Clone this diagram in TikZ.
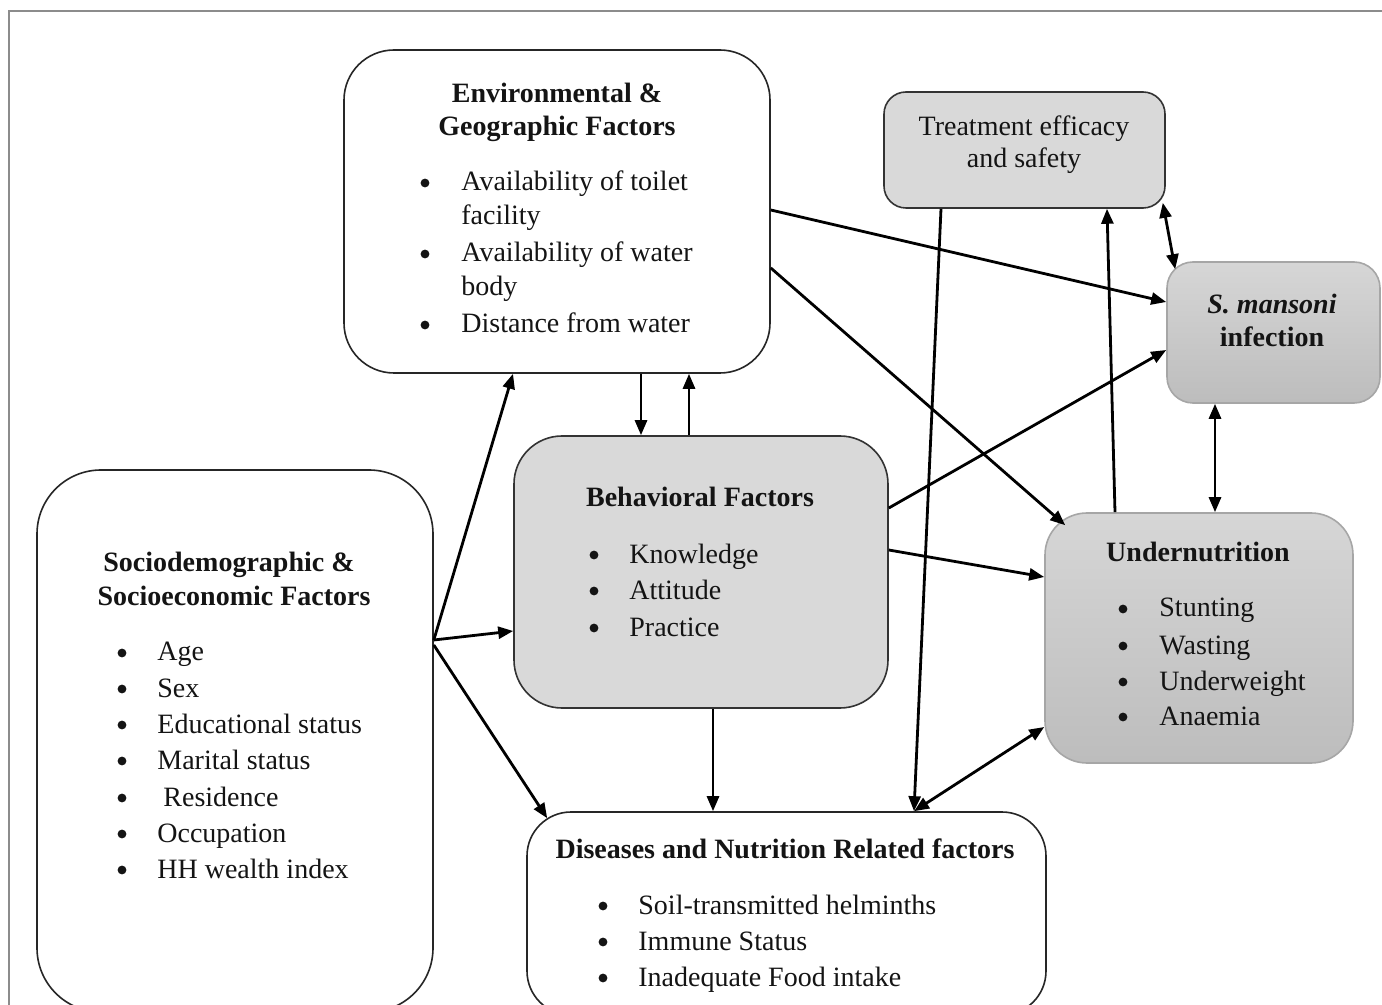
\documentclass[tikz,border=0pt]{standalone}
\usepackage{fontspec}
\setmainfont{Liberation Serif}
\usetikzlibrary{arrows.meta,fit,calc}
\begin{document}
\begin{tikzpicture}[x=0.5pt,y=-0.5pt,
  plainbox/.style={inner sep=0pt, draw=black!85, line width=0.8pt, fill=white},
  graybox/.style={inner sep=0pt, draw=black!80, line width=0.8pt, fill=black!15},
  gradbox/.style={inner sep=0pt, draw=black!35, line width=0.8pt, top color=black!16, bottom color=black!26},
  tx/.style={inner sep=0pt, text=black!92, font=\fontsize{14}{16}\selectfont},
  ttl/.style={tx, font=\fontsize{14}{16}\selectfont\bfseries, anchor=base},
  itm/.style={tx, anchor=base west},
  bul/.style={circle, fill=black!92, inner sep=0pt, minimum size=4.4pt, yshift=4pt},
  arr/.style={line width=1.4pt, -{Triangle[length=7.5pt,width=6pt]}},
  dbl/.style={line width=1.4pt, {Triangle[length=7.5pt,width=6pt]}-{Triangle[length=7.5pt,width=6pt]}},
  frame/.style={draw=black!45, line width=1pt}
]
\useasboundingbox (0,0) rectangle (1382,1005);
\clip (0,0) rectangle (1382,1005);
\fill[white] (0,0) rectangle (1382,1005);
\draw[frame] (9,1010) -- (9,11) -- (1390,11);

% boxes
\node[plainbox, rounded corners=25pt, fit={(344,50)(770,373)}] (env) {};
\node[graybox, rounded corners=11pt, fit={(884,92)(1165,208)}] (treat) {};
\node[gradbox, rounded corners=13pt, fit={(1167,262)(1380,403)}] (sman) {};
\node[graybox, rounded corners=24pt, fit={(514,436)(888,708)}] (behav) {};
\node[gradbox, rounded corners=21pt, fit={(1045,513)(1353,763)}] (under) {};
\node[plainbox, rounded corners=32pt, fit={(37,470)(433,1012)}] (socio) {};
\node[plainbox, rounded corners=22pt, fit={(527,812)(1046,1015)}] (dis) {};

% connectors
\draw[arr] (socio.east |- 0,640) -- (env.south -| 513,0);
\draw[arr] (socio.east |- 0,640) -- (behav.west |- 0,631);
\draw[arr] (socio.east |- 0,645) -- ($(dis.north west)+(21,7)$);
\draw[arr] (env.south -| 641,0) -- (behav.north -| 641,0);
\draw[arr] (behav.north -| 689,0) -- (env.south -| 689,0);
\draw[arr] (env.east |- 0,210) -- (sman.west |- 0,302);
\draw[arr] (env.east |- 0,268) -- ($(under.north west)+(21,13)$);
\draw[arr] (behav.east |- 0,508) -- (sman.west |- 0,350);
\draw[arr] (behav.east |- 0,550) -- (under.west |- 0,577);
\draw[arr] (behav.south -| 713,0) -- (dis.north -| 713,0);
\draw[arr] (treat.south -| 941,0) -- (dis.north -| 914,0);
\draw[arr] (under.north -| 1115,0) -- (treat.south -| 1107,0);
\draw[dbl] ($(treat.south east)+(-3,-6)$) -- ($(sman.north west)+(9,8)$);
\draw[dbl] (sman.south -| 1215,0) -- (under.north -| 1215,0);
\draw[dbl] (dis.north -| 914,0) -- (under.west |- 0,727);

% Environmental
\node[ttl] (env-h1) at (557,103) {Environmental \&};
\node[ttl] (env-h2) at (557,136) {Geographic Factors};
\node[bul] (env-b1) at (425,191) {};
\node[itm] (env-t1) at (461,191) {Availability of toilet};
\node[itm] (env-t2) at (461,225) {facility};
\node[bul] (env-b2) at (425,262) {};
\node[itm] (env-t3) at (461,262) {Availability of water};
\node[itm] (env-t4) at (461,296) {body};
\node[bul] (env-b3) at (425,333) {};
\node[itm] (env-t5) at (461,333) {Distance from water};

% Treatment
\node[tx, anchor=base] (tr-1) at (1024,136) {Treatment efficacy};
\node[tx, anchor=base] (tr-2) at (1024,168) {and safety};

% S. mansoni
\node[ttl] (sm-1) at (1272,314) {\itshape S. mansoni};
\node[ttl] (sm-2) at (1272,347) {infection};

% Behavioral
\node[ttl] (be-h) at (700,507) {Behavioral Factors};
\node[bul] (be-b1) at (594,563) {};
\node[itm] (be-t1) at (629,563) {Knowledge};
\node[bul] (be-b2) at (594,599) {};
\node[itm] (be-t2) at (629,599) {Attitude};
\node[bul] (be-b3) at (594,636) {};
\node[itm] (be-t3) at (629,636) {Practice};

% Undernutrition
\node[ttl] (un-h) at (1198,561) {Undernutrition};
\node[bul] (un-b1) at (1123,617) {};
\node[itm] (un-t1) at (1159,617) {Stunting};
\node[bul] (un-b2) at (1123,654) {};
\node[itm] (un-t2) at (1159,654) {Wasting};
\node[bul] (un-b3) at (1123,690) {};
\node[itm] (un-t3) at (1159,690) {Underweight};
\node[bul] (un-b4) at (1123,725) {};
\node[itm] (un-t4) at (1159,725) {Anaemia};

% Sociodemographic
\node[ttl] (so-h1) at (229,572) {Sociodemographic \&};
\node[ttl] (so-h2) at (234,605) {Socioeconomic Factors};
\node[bul] (so-b1) at (122,661) {};
\node[itm] (so-t1) at (157,661) {Age};
\node[bul] (so-b2) at (122,697) {};
\node[itm] (so-t2) at (157,697) {Sex};
\node[bul] (so-b3) at (122,733) {};
\node[itm] (so-t3) at (157,733) {Educational status};
\node[bul] (so-b4) at (122,769) {};
\node[itm] (so-t4) at (157,769) {Marital status};
\node[bul] (so-b5) at (122,806) {};
\node[itm] (so-t5) at (163,806) {Residence};
\node[bul] (so-b6) at (122,842) {};
\node[itm] (so-t6) at (157,842) {Occupation};
\node[bul] (so-b7) at (122,878) {};
\node[itm] (so-t7) at (157,878) {HH wealth index};

% Diseases
\node[ttl] (di-h) at (785,858) {Diseases and Nutrition Related factors};
\node[bul] (di-b1) at (603,914) {};
\node[itm] (di-t1) at (638,914) {Soil-transmitted helminths};
\node[bul] (di-b2) at (603,950) {};
\node[itm] (di-t2) at (638,950) {Immune Status};
\node[bul] (di-b3) at (603,986) {};
\node[itm] (di-t3) at (638,986) {Inadequate Food intake};
\end{tikzpicture}
\end{document}
